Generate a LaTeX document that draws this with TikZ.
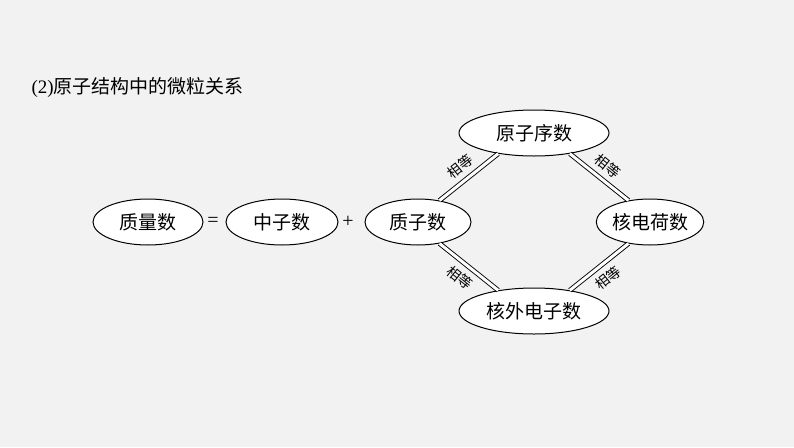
\documentclass[tikz,border=0pt]{standalone}
\usepackage{fontspec}
\usetikzlibrary{shapes.geometric}
\newfontfamily\cjk{Noto Sans CJK SC}
\setmainfont{Liberation Serif}
\begin{document}
\begin{tikzpicture}[x=1pt,y=-1pt,
  el/.style={draw,line width=1pt,ellipse,fill=white,minimum height=46pt,inner sep=0pt,font=\cjk\fontsize{19}{22}\selectfont},
  dbl/.style={double,double distance=3pt,line width=0.9pt},
  lab/.style={font=\cjk\fontsize{14}{16}\selectfont,inner sep=1pt}]
\fill[gray!10] (0,0) rectangle (794,447);
\useasboundingbox (0,0) rectangle (794,447);
\node[anchor=west,font=\fontsize{19}{22}\selectfont] (t) at (28,88) {(2)\cjk 原子结构中的微粒关系};
\node[el,minimum width=110pt] (a) at (148,222) {质量数};
\node[el,minimum width=112pt] (b) at (282,222) {中子数};
\node[el,minimum width=106pt] (c) at (418,222) {质子数};
\node[el,minimum width=150pt] (d) at (534,133) {原子序数};
\node[el,minimum width=106pt] (e) at (650,222) {核电荷数};
\node[el,minimum width=150pt] (f) at (534,311) {核外电子数};
\node[font=\fontsize{20}{22}\selectfont] (eq) at (213,222) {=};
\node[font=\fontsize{20}{22}\selectfont] (pl) at (348,222) {+};
\draw[dbl] (c.45) -- (d.-150) node[midway,lab,sloped,above=6pt] {相等};
\draw[dbl] (d.-30) -- (e.135) node[midway,lab,sloped,above=6pt] {相等};
\draw[dbl] (c.-45) -- (f.150) node[midway,lab,sloped,below=6pt] {相等};
\draw[dbl] (f.30) -- (e.-135) node[midway,lab,sloped,below=6pt] {相等};
\end{tikzpicture}
\end{document}
